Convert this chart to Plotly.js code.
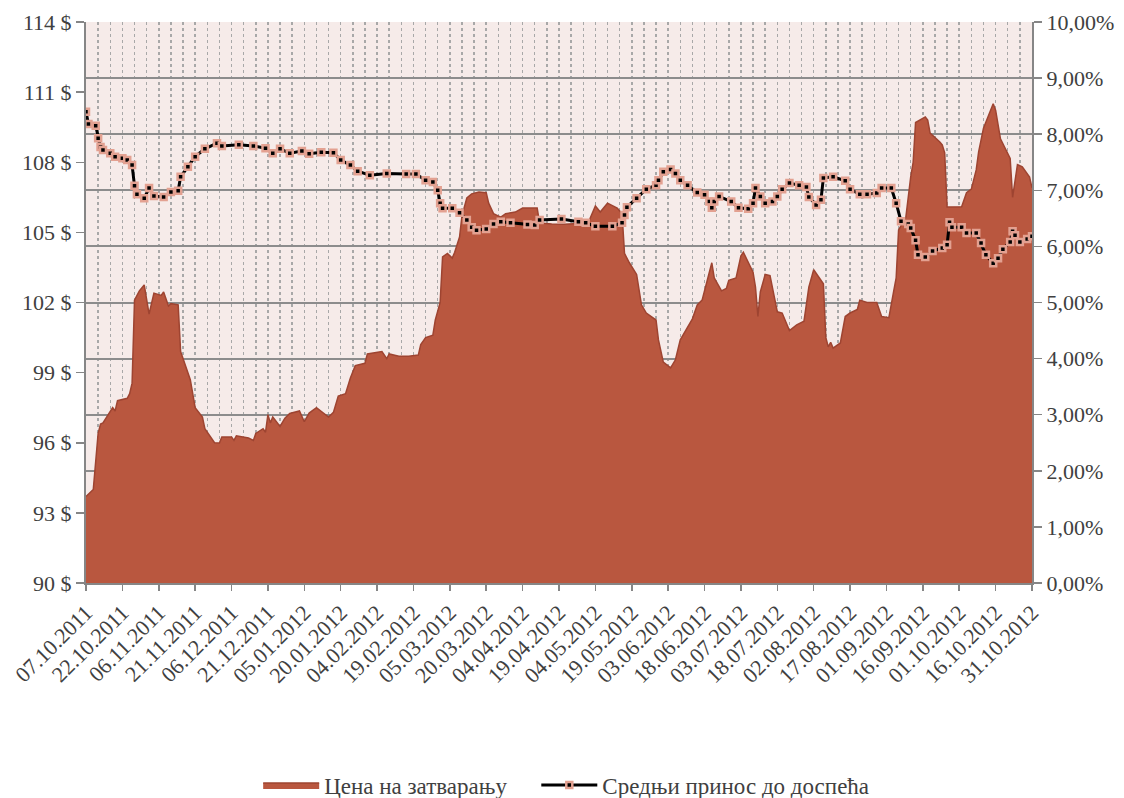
<!DOCTYPE html>
<html>
<head>
<meta charset="utf-8">
<script src="https://cdn.plot.ly/plotly-3.0.1.min.js"></script>
<style>html,body{margin:0;padding:0;background:#fff;}#chart{width:1124px;height:798px;}</style>
</head>
<body>
<div id="chart"></div>
<script>
const priceName = "Цена на затварању";
const yieldName = "Средњи принос до доспећа";

const priceDates = ["2011-10-07","2011-10-10","2011-10-12","2011-10-13","2011-10-14","2011-10-17","2011-10-18","2011-10-19","2011-10-20","2011-10-24","2011-10-25","2011-10-26","2011-10-27","2011-10-29","2011-10-31","2011-11-02","2011-11-04","2011-11-07","2011-11-08","2011-11-10","2011-11-11","2011-11-14","2011-11-15","2011-11-19","2011-11-21","2011-11-24","2011-11-25","2011-11-29","2011-12-01","2011-12-02","2011-12-06","2011-12-07","2011-12-08","2011-12-13","2011-12-15","2011-12-16","2011-12-19","2011-12-20","2011-12-21","2011-12-22","2011-12-23","2011-12-26","2011-12-28","2011-12-30","2012-01-03","2012-01-05","2012-01-07","2012-01-10","2012-01-13","2012-01-15","2012-01-17","2012-01-19","2012-01-22","2012-01-24","2012-01-26","2012-01-30","2012-01-31","2012-02-06","2012-02-08","2012-02-09","2012-02-13","2012-02-17","2012-02-21","2012-02-22","2012-02-24","2012-02-27","2012-02-28","2012-03-01","2012-03-02","2012-03-04","2012-03-06","2012-03-07","2012-03-09","2012-03-10","2012-03-12","2012-03-14","2012-03-17","2012-03-20","2012-03-21","2012-03-23","2012-03-26","2012-03-28","2012-04-01","2012-04-04","2012-04-10","2012-04-11","2012-04-16","2012-04-21","2012-05-01","2012-05-04","2012-05-06","2012-05-09","2012-05-13","2012-05-15","2012-05-16","2012-05-18","2012-05-21","2012-05-23","2012-05-25","2012-05-29","2012-05-30","2012-06-01","2012-06-04","2012-06-06","2012-06-08","2012-06-10","2012-06-13","2012-06-15","2012-06-17","2012-06-19","2012-06-21","2012-06-22","2012-06-25","2012-06-27","2012-06-28","2012-07-01","2012-07-03","2012-07-04","2012-07-08","2012-07-09","2012-07-10","2012-07-11","2012-07-13","2012-07-15","2012-07-18","2012-07-20","2012-07-23","2012-07-26","2012-07-29","2012-07-31","2012-08-02","2012-08-06","2012-08-07","2012-08-08","2012-08-09","2012-08-10","2012-08-13","2012-08-15","2012-08-17","2012-08-20","2012-08-21","2012-08-24","2012-08-28","2012-08-30","2012-09-02","2012-09-04","2012-09-05","2012-09-06","2012-09-09","2012-09-11","2012-09-12","2012-09-13","2012-09-17","2012-09-18","2012-09-19","2012-09-23","2012-09-24","2012-09-25","2012-09-26","2012-10-02","2012-10-04","2012-10-06","2012-10-08","2012-10-09","2012-10-11","2012-10-15","2012-10-16","2012-10-18","2012-10-22","2012-10-23","2012-10-25","2012-10-27","2012-10-30","2012-10-31"];
const prices = [93.7,94.0,96.4,96.8,96.85,97.3,97.5,97.36,97.8,97.9,98.1,98.55,102.1,102.5,102.75,101.5,102.4,102.3,102.45,101.85,101.95,101.9,99.9,98.7,97.5,97.1,96.6,96.0,95.99,96.25,96.25,96.1,96.3,96.2,96.1,96.4,96.6,96.45,97.2,96.85,97.1,96.7,97.05,97.25,97.36,96.9,97.27,97.5,97.27,97.1,97.3,98.0,98.1,98.77,99.3,99.4,99.8,99.9,99.6,99.8,99.7,99.7,99.75,100.2,100.5,100.6,101.25,102.0,103.95,104.1,103.9,104.15,104.8,105.7,106.47,106.65,106.73,106.7,106.25,105.8,105.65,105.8,105.87,106.04,106.04,105.4,105.36,105.35,105.4,106.13,105.87,106.25,106.04,105.8,104.1,103.7,103.2,101.9,101.55,101.25,100.4,99.45,99.2,99.55,100.4,100.74,101.3,101.9,102.1,102.9,103.7,103.05,102.5,102.6,102.95,103.05,104.0,104.15,103.3,102.66,101.4,102.45,103.2,103.15,101.6,101.55,100.8,101.04,101.2,102.66,103.4,102.8,100.5,100.1,100.3,100.05,100.27,101.4,101.55,101.7,102.1,102.0,102.0,101.4,101.35,102.5,103.05,105.1,105.65,107.37,108.0,109.7,109.94,109.8,109.25,108.87,108.74,108.4,106.09,106.1,106.7,106.85,107.67,108.44,109.46,110.5,110.23,109.0,108.16,106.5,107.9,107.8,107.37,106.9];

const yieldDates = ["2011-10-07","2011-10-08","2011-10-11","2011-10-12","2011-10-13","2011-10-14","2011-10-17","2011-10-19","2011-10-22","2011-10-24","2011-10-26","2011-10-27","2011-10-28","2011-10-31","2011-11-02","2011-11-04","2011-11-08","2011-11-11","2011-11-14","2011-11-15","2011-11-18","2011-11-21","2011-11-25","2011-11-30","2011-12-02","2011-12-09","2011-12-15","2011-12-20","2011-12-23","2011-12-26","2011-12-30","2012-01-04","2012-01-07","2012-01-12","2012-01-17","2012-01-20","2012-01-24","2012-01-27","2012-02-01","2012-02-08","2012-02-16","2012-02-20","2012-02-24","2012-02-27","2012-02-29","2012-03-01","2012-03-02","2012-03-06","2012-03-09","2012-03-12","2012-03-14","2012-03-16","2012-03-20","2012-03-23","2012-03-26","2012-03-30","2012-04-06","2012-04-09","2012-04-11","2012-04-20","2012-04-27","2012-04-30","2012-05-04","2012-05-11","2012-05-15","2012-05-16","2012-05-17","2012-05-21","2012-05-25","2012-05-29","2012-05-30","2012-06-01","2012-06-04","2012-06-06","2012-06-08","2012-06-11","2012-06-15","2012-06-18","2012-06-20","2012-06-21","2012-06-22","2012-06-24","2012-06-29","2012-07-02","2012-07-06","2012-07-08","2012-07-09","2012-07-11","2012-07-13","2012-07-16","2012-07-18","2012-07-20","2012-07-23","2012-07-27","2012-07-30","2012-07-31","2012-08-03","2012-08-05","2012-08-06","2012-08-10","2012-08-15","2012-08-17","2012-08-21","2012-08-24","2012-08-28","2012-08-30","2012-09-03","2012-09-05","2012-09-07","2012-09-10","2012-09-11","2012-09-13","2012-09-14","2012-09-17","2012-09-20","2012-09-24","2012-09-26","2012-09-27","2012-09-28","2012-10-02","2012-10-04","2012-10-08","2012-10-10","2012-10-12","2012-10-15","2012-10-17","2012-10-19","2012-10-22","2012-10-23","2012-10-24","2012-10-26","2012-10-29","2012-10-31"];
const yields = [8.4,8.18,8.15,7.93,7.77,7.72,7.66,7.6,7.57,7.54,7.45,7.08,6.93,6.86,7.04,6.9,6.88,6.97,6.99,7.24,7.42,7.6,7.74,7.84,7.79,7.81,7.79,7.75,7.66,7.74,7.66,7.7,7.65,7.68,7.67,7.54,7.45,7.34,7.27,7.3,7.29,7.29,7.18,7.15,7.0,6.77,6.68,6.68,6.6,6.47,6.34,6.29,6.31,6.4,6.44,6.42,6.39,6.38,6.47,6.49,6.44,6.42,6.36,6.36,6.42,6.56,6.7,6.86,7.02,7.09,7.18,7.33,7.37,7.3,7.18,7.09,6.96,6.92,6.8,6.69,6.8,6.89,6.8,6.69,6.67,6.77,7.04,6.89,6.77,6.8,6.89,7.02,7.13,7.09,7.06,6.88,6.74,6.83,7.22,7.24,7.17,7.02,6.93,6.93,6.95,7.04,7.04,6.77,6.45,6.4,6.33,6.11,5.85,5.81,5.92,5.97,6.03,6.43,6.34,6.34,6.24,6.24,6.06,5.85,5.7,5.79,5.95,6.08,6.27,6.2,6.08,6.13,6.18];

const FONT = "Liberation Serif, serif";
const TXT = "#404040";
const DAY = 86400000;

const traces = [
  {
    type: "scatter", mode: "lines", name: priceName, legend: "legend",
    x: priceDates, y: prices, yaxis: "y",
    fill: "tozeroy", fillcolor: "#B9573F",
    line: {color: "#9E4431", width: 1.5}
  },
  {
    type: "scatter", mode: "lines+markers", name: yieldName, legend: "legend2",
    x: yieldDates, y: yields, yaxis: "y2",
    line: {color: "#000000", width: 3},
    marker: {symbol: "square", size: 6, color: "#000000", line: {color: "#E3A191", width: 2.5}}
  }
];

const legendBase = {
  orientation: "h", xanchor: "left", y: -0.36, yanchor: "middle",
  itemwidth: 56, bgcolor: "rgba(0,0,0,0)",
  font: {family: FONT, size: 23, color: TXT}
};

const layout = {
  width: 1124, height: 798,
  margin: {l: 86, r: 92, t: 22, b: 215, autoexpand: false},
  paper_bgcolor: "#ffffff",
  plot_bgcolor: "#F6EBE9",
  separators: ", ",
  font: {family: FONT, size: 22, color: TXT},
  showlegend: true,
  legend: Object.assign({}, legendBase, {x: 0.182}),
  legend2: Object.assign({}, legendBase, {x: 0.476}),
  xaxis: {
    type: "date", automargin: false,
    range: ["2011-10-07", "2012-10-31"],
    tick0: "2011-10-07", dtick: 15 * DAY,
    tickformat: "%d.%m.%Y", tickangle: -45,
    ticks: "outside", ticklen: 6, tickcolor: "#868686", tickwidth: 1.5,
    showline: true, linecolor: "#868686", linewidth: 2,
    showgrid: true, gridcolor: "#A8A8A8", griddash: "dot", gridwidth: 1.5,
    minor: {tick0: "2011-10-07", dtick: 5 * DAY, showgrid: true, gridcolor: "#A8A8A8", griddash: "dot", gridwidth: 1.5},
    tickfont: {family: FONT, size: 22, color: TXT},
    zeroline: false
  },
  yaxis: {
    automargin: false,
    range: [90, 114], dtick: 3, tick0: 90,
    ticksuffix: " $",
    ticks: "outside", ticklen: 8, tickcolor: "#868686", tickwidth: 1.5,
    showline: true, linecolor: "#868686", linewidth: 2,
    showgrid: false, zeroline: false,
    tickfont: {family: FONT, size: 22, color: TXT}
  },
  yaxis2: {
    automargin: false,
    overlaying: "y", side: "right",
    range: [0, 10], dtick: 1, tick0: 0,
    tickformat: ".2f", ticksuffix: "%",
    ticks: "outside", ticklen: 8, tickcolor: "#868686", tickwidth: 1.5,
    showline: true, linecolor: "#868686", linewidth: 2,
    showgrid: true, gridcolor: "#8C8C8C", gridwidth: 2,
    zeroline: false,
    tickfont: {family: FONT, size: 22, color: TXT}
  }
};

Plotly.newPlot("chart", traces, layout, {staticPlot: true, displayModeBar: false});
</script>
</body>
</html>
